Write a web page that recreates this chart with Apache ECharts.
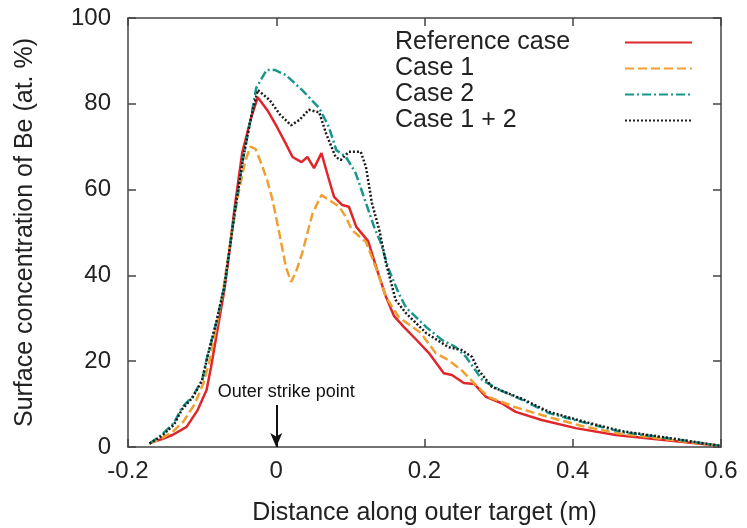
<!DOCTYPE html>
<html>
<head>
<meta charset="utf-8">
<script src="https://cdn.jsdelivr.net/npm/echarts@6/dist/echarts.min.js"></script>
<style>html,body{margin:0;padding:0;background:#fff}#c{width:747px;height:528px}</style>
</head>
<body>
<div id="c"></div>
<script>
var seriesNames = ['Reference case', 'Case 1', 'Case 2', 'Case 1 + 2'];
var xTicks = { min: -0.2, max: 0.6, interval: 0.2 };
var yTicks = { min: 0, max: 100, interval: 20 };

var referenceCase = [
  [-0.171, 0.9], [-0.155, 1.8], [-0.140, 2.8], [-0.121, 4.7], [-0.106, 8.6], [-0.094, 13.3],
  [-0.088, 18.6], [-0.080, 26.6], [-0.070, 36.6], [-0.063, 45.9], [-0.056, 56], [-0.046, 68.5],
  [-0.034, 76.7], [-0.025, 81.5], [-0.012, 78.5], [0.001, 74.6], [0.012, 71], [0.022, 67.6],
  [0.034, 66.4], [0.042, 67.6], [0.051, 65], [0.061, 68.5], [0.070, 63], [0.078, 58.3],
  [0.089, 56.4], [0.098, 56], [0.108, 51.3], [0.124, 48], [0.136, 41.3], [0.148, 35],
  [0.159, 30.5], [0.172, 28], [0.189, 25], [0.206, 21.9], [0.226, 17.2], [0.237, 16.8],
  [0.253, 14.9], [0.267, 14.7], [0.283, 11.7], [0.304, 10.2], [0.323, 8.2], [0.358, 6.3],
  [0.404, 4.4], [0.458, 2.8], [0.526, 1.6], [0.598, 0.3]
];
var case1 = [
  [-0.171, 0.8], [-0.155, 2.0], [-0.140, 3.5], [-0.125, 6], [-0.110, 10], [-0.098, 15],
  [-0.090, 20], [-0.082, 27], [-0.073, 35], [-0.066, 43], [-0.060, 50], [-0.050, 60],
  [-0.042, 66.5], [-0.035, 70], [-0.028, 69.5], [-0.020, 66], [-0.012, 62], [-0.005, 57.6],
  [0.004, 50], [0.013, 42], [0.020, 38.5], [0.027, 41], [0.035, 45.2], [0.049, 54.5],
  [0.061, 58.7], [0.072, 57.5], [0.085, 56], [0.094, 53.6], [0.102, 50.6], [0.121, 47.8],
  [0.134, 42], [0.148, 35], [0.165, 30.3], [0.195, 26.6], [0.215, 21.9], [0.232, 20.3],
  [0.250, 17.9], [0.269, 14.5], [0.286, 11.7], [0.322, 9.3], [0.367, 7], [0.41, 5],
  [0.46, 3.2], [0.526, 1.8], [0.598, 0.3]
];
var case2 = [
  [-0.171, 0.8], [-0.155, 2.8], [-0.138, 5.6], [-0.127, 9.3], [-0.113, 11.7], [-0.100, 15.6],
  [-0.093, 21], [-0.081, 28.9], [-0.070, 37.3], [-0.063, 46], [-0.055, 56], [-0.045, 67],
  [-0.035, 76], [-0.027, 83.7], [-0.013, 87.9], [-0.002, 87.9], [0.013, 86.7], [0.035, 83.2],
  [0.058, 79], [0.071, 74.6], [0.081, 69.2], [0.094, 67.6], [0.107, 63.9], [0.121, 56.9],
  [0.132, 51.3], [0.141, 47.6], [0.152, 41.3], [0.165, 35.9], [0.175, 32.5], [0.183, 31.2],
  [0.202, 28], [0.224, 24.9], [0.242, 23.3], [0.256, 21], [0.278, 15.6], [0.301, 13.3],
  [0.332, 11], [0.368, 7.9], [0.413, 5.8], [0.466, 3.5], [0.526, 2.1], [0.598, 0.3]
];
var case12 = [
  [-0.171, 0.8], [-0.155, 2.5], [-0.138, 5.2], [-0.127, 8.8], [-0.113, 11.5], [-0.100, 15.5],
  [-0.093, 21], [-0.081, 29], [-0.070, 37.5], [-0.063, 46], [-0.055, 56], [-0.045, 67],
  [-0.035, 76], [-0.025, 83.2], [-0.009, 80.9], [0.005, 77.5], [0.020, 75], [0.031, 76.2],
  [0.044, 78.6], [0.058, 78], [0.067, 73.2], [0.080, 67.6], [0.087, 66.9], [0.098, 68.8],
  [0.114, 68.8], [0.121, 65.3], [0.129, 56.9], [0.139, 50.6], [0.148, 42.9], [0.161, 34.3],
  [0.175, 31.2], [0.202, 26.6], [0.232, 23.3], [0.250, 22.6], [0.264, 21], [0.273, 17.9],
  [0.291, 14], [0.332, 11.2], [0.368, 8.2], [0.413, 6], [0.466, 3.7], [0.526, 2.2], [0.598, 0.3]
];
var strikePoint = { x: 0, top: 9.8, label: 'Outer strike point' };

var FONT = 'Liberation Sans, Arial, Helvetica, sans-serif';
var AX = '#444';
var chart = echarts.init(document.getElementById('c'));

function baseAxis(extra) {
  return Object.assign({
    type: 'value',
    axisLine: { show: true, onZero: false, lineStyle: { color: AX, width: 1.5 } },
    axisTick: { show: true, inside: true, length: 8, lineStyle: { color: AX, width: 1.5 } },
    splitLine: { show: false }
  }, extra);
}

function lineSeries(name, data, color, type, extra) {
  return Object.assign({
    name: name, type: 'line', data: data, showSymbol: false, symbol: 'none',
    animation: false, silent: true,
    lineStyle: { color: color, width: 2.5, type: type },
    itemStyle: { color: color }
  }, extra || {});
}

chart.setOption({
  animation: false,
  backgroundColor: '#fff',
  grid: { left: 128, right: 26, top: 18, bottom: 81, outerBoundsMode: 'none', containLabel: false },
  xAxis: [
    baseAxis({ position: 'bottom', min: xTicks.min, max: xTicks.max, interval: xTicks.interval,
      name: 'Distance along outer target (m)', nameLocation: 'middle', nameGap: 54,
      nameTextStyle: { fontFamily: FONT, fontSize: 25, color: '#222' },
      axisLabel: { fontFamily: FONT, fontSize: 24, color: '#222', margin: 12 } }),
    baseAxis({ position: 'top', min: xTicks.min, max: xTicks.max, interval: xTicks.interval,
      axisLabel: { show: false } })
  ],
  yAxis: [
    baseAxis({ position: 'left', min: yTicks.min, max: yTicks.max, interval: yTicks.interval,
      name: 'Surface concentration of Be (at. %)', nameLocation: 'middle', nameGap: 90,
      nameTextStyle: { fontFamily: FONT, fontSize: 25, color: '#222' },
      axisLabel: { fontFamily: FONT, fontSize: 24, color: '#222', margin: 17 } }),
    baseAxis({ position: 'right', min: yTicks.min, max: yTicks.max, interval: yTicks.interval,
      axisLabel: { show: false } })
  ],
  legend: {
    orient: 'vertical', left: 390, top: 25, align: 'right',
    itemWidth: 67, itemHeight: 14, itemGap: 1,
    selectedMode: false,
    itemStyle: { opacity: 0, borderWidth: 0 },
    formatter: '{a|{name}}',
    textStyle: { fontFamily: FONT, fontSize: 25, color: '#222',
      rich: { a: { width: 225, align: 'left', fontFamily: FONT, fontSize: 25, color: '#222', lineHeight: 25 } } },
    data: seriesNames
  },
  series: [
    lineSeries(seriesNames[0], referenceCase, '#e0262a', 'solid', {
      markLine: {
        silent: true, animation: false,
        symbol: ['none', 'arrow'], symbolSize: [9, 14],
        lineStyle: { color: '#111', width: 2, type: 'solid' },
        label: { show: true, position: 'start', formatter: strikePoint.label,
          fontFamily: FONT, fontSize: 18, color: '#111', distance: 4, offset: [10, 0] },
        data: [[{ coord: [strikePoint.x, strikePoint.top] }, { coord: [strikePoint.x, 0] }]]
      }
    }),
    lineSeries(seriesNames[1], case1, '#f0a030', [9, 4]),
    lineSeries(seriesNames[2], case2, '#17978c', [9, 3, 2, 3]),
    lineSeries(seriesNames[3], case12, '#1a1a1a', [2, 2])
  ]
});
</script>
</body>
</html>
